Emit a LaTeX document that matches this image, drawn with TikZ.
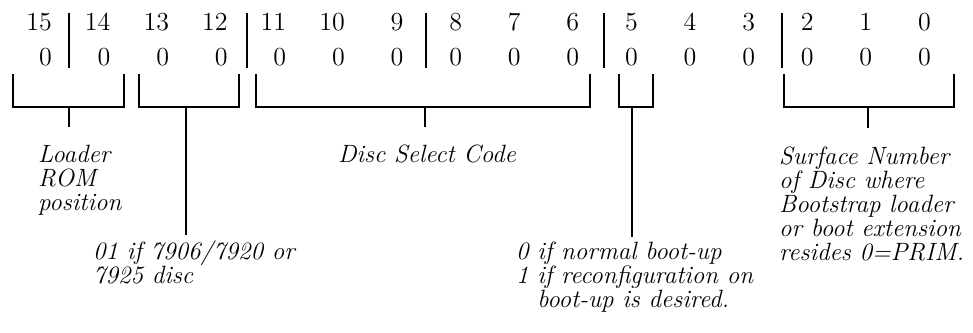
\documentclass[tikz,border=0pt]{standalone}
\usepackage{fontspec}
\usepackage{tikz}
\usetikzlibrary{calc}

\tikzset{
  bit/.style={inner sep=0pt, anchor=base east, font=\fontsize{13}{14}\selectfont\addfontfeatures{FakeBold=0.4}},
  note/.style={inner sep=0pt, align=left, font=\fontsize{12.5}{12}\selectfont\itshape\addfontfeatures{FakeBold=0.4}},
}

\begin{document}
\begin{tikzpicture}[x=0.5pt,y=-0.5pt,line width=1.2pt]
\useasboundingbox (0,0) rectangle (973,332);
% bit numbers and their values
\foreach \b in {0,...,15}{
  \node[bit] (b\b) at ({932-58.6*\b},31) {\b};
  \node[bit] (v\b) at ({932-58.6*\b},65) {0};
}
% field separators
\foreach \x in {69,247,426,604,782}{
  \draw (\x,13)--(\x,68);
}
% brackets under the fields
\foreach \l/\r/\m/\n in {13/124/69/1, 139/239/186/2, 256/590/425/3, 619/653/632/4, 784/954/868/5}{
  \draw (\l,74)--(\l,107)--(\r,107)--(\r,74);
  \coordinate (k\n) at (\m,107);
}
% stems
\draw (k1)--++(0,20);
\draw (k2)--++(0,128);
\draw (k3)--++(0,20);
\draw (k4)--++(0,130);
\draw (k5)--++(0,21);
% labels
\node[note, anchor=north west] (rom) at (37,144) {Loader\\ROM\\position};
\node[note, anchor=base] (dsc) at (427,162) {Disc Select Code};
\node[note, anchor=north west] (typ) at (92,240) {01 if 7906/7920 or\\7925 disc};
\node[note, anchor=north west] (boot) at (515,241) {0 if normal boot-up\\1 if reconfiguration on\\\phantom{1 }boot-up is desired.};
\node[note, anchor=north west] (surf) at (778,146) {Surface Number\\of Disc where\\Bootstrap loader\\or boot extension\\resides 0=PRIM.};
\end{tikzpicture}
\end{document}
